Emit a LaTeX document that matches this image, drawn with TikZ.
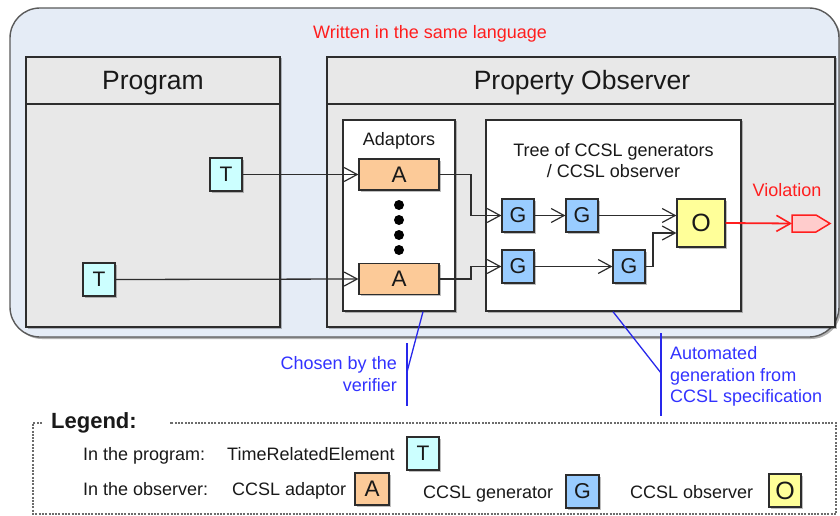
\documentclass[tikz,border=0pt]{standalone}
\usepackage{fontspec}
\setmainfont{Liberation Sans}
\usetikzlibrary{arrows.meta,shadows,calc}
\definecolor{outerfill}{RGB}{229,236,246}
\definecolor{outerline}{RGB}{90,90,90}
\definecolor{panelfill}{RGB}{232,232,232}
\definecolor{boxline}{RGB}{45,45,45}
\definecolor{txt}{RGB}{25,25,25}
\definecolor{tfill}{RGB}{204,255,255}
\definecolor{afill}{RGB}{252,202,152}
\definecolor{gfill}{RGB}{153,204,255}
\definecolor{ofill}{RGB}{255,255,153}
\definecolor{redc}{RGB}{255,30,30}
\definecolor{pinkfill}{RGB}{255,204,204}
\definecolor{bluetxt}{RGB}{50,50,255}
\definecolor{blueline}{RGB}{40,40,235}
\begin{document}
\begin{tikzpicture}[x=1pt,y=-1pt,
  lbl/.style={inner sep=0pt, font=\fontsize{18}{21.5}\selectfont, text=txt},
  shad/.style={drop shadow={shadow xshift=1.5pt, shadow yshift=-1.5pt, opacity=0.25, fill=black}},
  outerbox/.style={draw=outerline, fill=outerfill, line width=1.4pt, rounded corners=30pt, inner sep=0pt,
    drop shadow={shadow xshift=2pt, shadow yshift=-2pt, opacity=0.3, fill=black}},
  panel/.style={draw=boxline, fill=panelfill, line width=1.3pt, inner sep=0pt, shad},
  whitebox/.style={draw=boxline, fill=white, line width=1.3pt, inner sep=0pt, shad},
  elem/.style={draw=boxline, line width=1.2pt, inner sep=0pt, minimum width=32pt, minimum height=33pt,
    font=\fontsize{21}{21}\selectfont, text=txt, shad},
  tbox/.style={elem, fill=tfill},
  abox/.style={elem, fill=afill, font=\fontsize{22.5}{22.5}\selectfont},
  gbox/.style={elem, fill=gfill, font=\fontsize{21.5}{21.5}\selectfont},
  obox/.style={elem, fill=ofill, font=\fontsize{25}{25}\selectfont},
  arr/.style={draw=boxline, line width=1.3pt, -{Straight Barb[length=13pt,width=14pt,line width=1.2pt]}},
  redarr/.style={draw=redc, line width=1.8pt, -{Straight Barb[length=14pt,width=16pt,line width=1.6pt]}},
  bline/.style={draw=blueline, line width=1.3pt},
  dotbox/.style={draw=boxline!70, line width=1.1pt, dash pattern=on 2pt off 1.3pt}
]
\useasboundingbox (0,0) rectangle (840,516);

% outer region
\node[outerbox, minimum width=829pt, minimum height=329pt] (outer) at (424.5,172.5) {};
\node[lbl, anchor=base, text=redc] (written) at (430,38.5) {Written in the same language};

% program panel
\node[panel, minimum width=254pt, minimum height=270pt] (prog) at (153,192) {};
\coordinate (hy) at (0,104);
\draw[draw=boxline, line width=1.3pt] (prog.west |- hy) -- (prog.east |- hy);
\node[lbl, anchor=base, font=\fontsize{26.5}{26.5}\selectfont] (progt) at (153,89.5) {Program};

% observer panel
\node[panel, minimum width=508pt, minimum height=270pt] (obs) at (581,192) {};
\draw[draw=boxline, line width=1.3pt] (obs.west |- hy) -- (obs.east |- hy);
\node[lbl, anchor=base, font=\fontsize{26.5}{26.5}\selectfont] (obst) at (582,89.5) {Property Observer};

% adaptors box
\node[whitebox, minimum width=112pt, minimum height=191pt] (adapt) at (399,215.5) {};
\node[lbl, anchor=base] (adaptt) at (399,145.5) {Adaptors};
\node[abox, minimum width=80pt, minimum height=31pt] (A1) at (399,174.5) {A};
\node[abox, minimum width=80pt, minimum height=31pt] (A2) at (399,279) {A};
\foreach \yy in {205,220,235,250} \fill[black] (399,\yy) circle (5pt);

% tree box
\node[whitebox, minimum width=255pt, minimum height=191pt] (tree) at (613.5,215.5) {};
\node[lbl, anchor=base, align=center] (treet) at (613.5,177.5) {Tree of CCSL generators\\/ CCSL observer};
\node[gbox] (G1) at (518,215.5) {G};
\node[gbox] (G2) at (582,215.5) {G};
\node[gbox] (G3) at (518,266.5) {G};
\node[gbox] (G4) at (629,266.5) {G};
\node[obox, minimum width=48pt, minimum height=48pt] (O) at (701,223) {O};

% program elements
\node[tbox] (T1) at (226,174.5) {T};
\node[tbox] (T2) at (99,279.5) {T};

% connectors
\draw[arr] (T1.east) -- (A1.west);
\draw[arr] (T2.east) -- (A2.west);
\coordinate (mA) at (471,0);
\draw[arr] (A1.east) -| (mA |- G1.west) -- (G1.west);
\draw[arr] (A2.east) -| (mA |- G3.west) -- (G3.west);
\draw[arr] (G1.east) -- (G2.west);
\draw[arr] (G3.east) -- (G4.west);
\draw[arr] (G2.east) -- (G2.east -| O.west);
\coordinate (oin) at ($(O.west)+(0,10)$);
\coordinate (mG) at (653,0);
\draw[arr] (G4.east) -| (mG |- oin) -- (oin);

% violation
\coordinate (viol) at (792,223.5);
\draw[draw=redc, fill=pinkfill, line width=1.5pt] (viol) -- ++(0,-8.5) -- ++(24,0) -- ++(14,8.5) -- ++(-14,8.5) -- ++(-24,0) -- cycle;
\draw[redarr] (O.east) -- (viol);
\node[lbl, anchor=base, text=redc] (violt) at (787,196) {Violation};

% blue annotations
\coordinate (ax) at (423,0);
\coordinate (c1) at (407,372);
\coordinate (c1a) at (407,343);
\coordinate (c1b) at (407,406);
\draw[bline] (adapt.south -| ax) -- (c1);
\draw[bline] (c1a) -- (c1b);
\node[lbl, anchor=base east, align=right, text=bluetxt, font=\fontsize{18}{22}\selectfont] (chosen) at (397,391.5) {Chosen by the\\verifier};
\coordinate (tx) at (613,0);
\coordinate (c2) at (661,373);
\coordinate (c2a) at (661,333);
\coordinate (c2b) at (661,416);
\draw[bline] (tree.south -| tx) -- (c2);
\draw[bline] (c2a) -- (c2b);
\node[lbl, anchor=base west, align=left, text=bluetxt] (auto) at (670,402.5) {Automated\\generation from\\CCSL specification};

% legend
\draw[dotbox] (42,423) -- (33,423) -- (33,514) -- (836,514) -- (836,423) -- (170,423);
\node[lbl, anchor=base west, font=\bfseries\fontsize{22}{22}\selectfont] (legt) at (51,428.5) {Legend:};
\node[lbl, anchor=base west] (l1a) at (83,460) {In the program:};
\node[lbl, anchor=base west] (l1b) at (227,460) {TimeRelatedElement};
\node[tbox] (LT) at (423,453.5) {T};
\node[lbl, anchor=base west] (l2a) at (83,495) {In the observer:};
\node[lbl, anchor=base west] (l2b) at (232,495) {CCSL adaptor};
\node[abox, minimum width=34pt, minimum height=32pt] (LA) at (372,489) {A};
\node[lbl, anchor=base west] (l2c) at (423,498.5) {CCSL generator};
\node[gbox, minimum width=33pt] (LG) at (582.5,491.5) {G};
\node[lbl, anchor=base west] (l2d) at (630,498.5) {CCSL observer};
\node[obox, minimum width=32pt, minimum height=33pt] (LO) at (785,490.5) {O};
\end{tikzpicture}
\end{document}
